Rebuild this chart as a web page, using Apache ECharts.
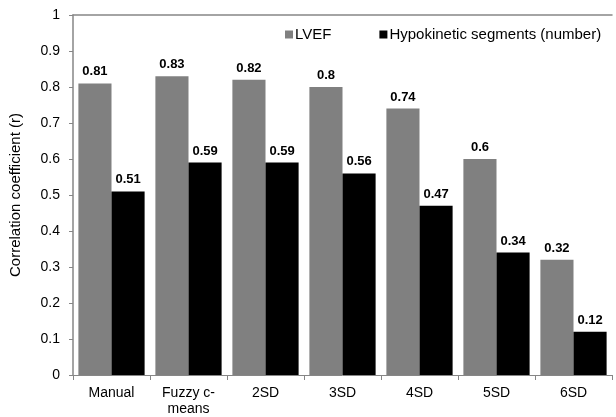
<!DOCTYPE html>
<html><head><meta charset="utf-8">
<script src="https://cdn.jsdelivr.net/npm/echarts@6/dist/echarts.min.js"></script>
<style>html,body{margin:0;padding:0;background:#fff}#c{width:616px;height:417px}</style>
</head><body><div id="c"></div>
<script>
const categories = ["Manual", "Fuzzy c-\nmeans", "2SD", "3SD", "4SD", "5SD", "6SD"];
const lvef = [0.81, 0.83, 0.82, 0.8, 0.74, 0.6, 0.32];
const hypokinetic = [0.51, 0.59, 0.59, 0.56, 0.47, 0.34, 0.12];
const seriesNames = ["LVEF", "Hypokinetic segments (number)"];
const yAxisTitle = "Correlation coefficient (r)";

const font = "Liberation Sans, Arial, sans-serif";
const chart = echarts.init(document.getElementById('c'), null, {renderer: 'canvas'});
const labelOpt = {show: true, position: 'top', distance: 5, fontFamily: font, fontSize: 13, fontWeight: 'bold', color: '#000',
  formatter: p => String(p.value)};
chart.setOption({
  animation: false,
  textStyle: {fontFamily: font},
  grid: {left: 73, right: 4, top: 15, bottom: 38},
  legend: {
    left: 280, top: 22, icon: 'rect', itemWidth: 8, itemHeight: 8, itemGap: 48,
    textStyle: {fontFamily: font, fontSize: 15, color: '#000', padding: [0, 0, 0, -3]},
    data: seriesNames
  },
  xAxis: [{
    type: 'category', data: categories,
    axisLine: {lineStyle: {color: '#868686', width: 1}},
    axisTick: {show: true, length: 5, alignWithLabel: false, lineStyle: {color: '#868686'}},
    axisLabel: {fontFamily: font, fontSize: 14, color: '#000', margin: 10, lineHeight: 16, interval: 0}
  }, {
    type: 'category', position: 'top', data: categories,
    axisLine: {show: true, lineStyle: {color: '#868686', width: 1.5}},
    axisTick: {show: false}, axisLabel: {show: false}
  }],
  yAxis: {
    type: 'value', min: 0, max: 1, interval: 0.1,
    name: yAxisTitle, nameLocation: 'middle', nameGap: 50, nameRotate: 90,
    nameTextStyle: {fontFamily: font, fontSize: 15, color: '#000'},
    axisLine: {show: true, lineStyle: {color: '#868686', width: 1.5}},
    axisTick: {show: true, length: 4, lineStyle: {color: '#868686'}},
    splitLine: {show: false},
    axisLabel: {fontFamily: font, fontSize: 14, color: '#000', margin: 13,
      formatter: v => String(Math.round(v * 10) / 10)}
  },
  series: [
    {name: seriesNames[0], type: 'bar', data: lvef, itemStyle: {color: '#808080'}, barGap: '0%', barCategoryGap: '14%', label: labelOpt},
    {name: seriesNames[1], type: 'bar', data: hypokinetic, itemStyle: {color: '#000000'}, barGap: '0%', barCategoryGap: '14%', label: labelOpt}
  ]
});
</script></body></html>
